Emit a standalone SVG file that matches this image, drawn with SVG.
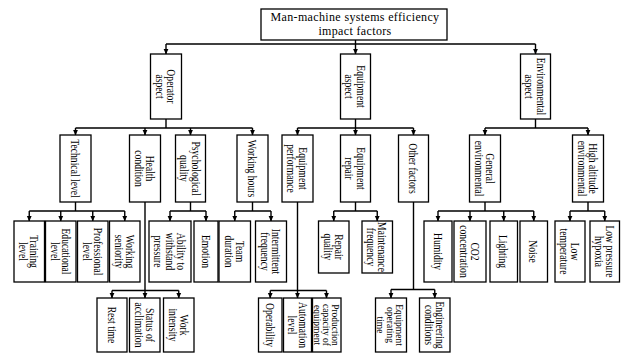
<svg xmlns="http://www.w3.org/2000/svg" width="621" height="354" viewBox="0 0 621 354">
<style>
.b{fill:#fff;stroke:#000;stroke-width:1.3}
.r{font-family:"Liberation Serif","Times New Roman",serif;font-size:12px;fill:#000;text-anchor:middle;letter-spacing:0.35px}
.t,.t tspan{font-family:"Liberation Serif","Times New Roman",serif;font-size:11.5px;fill:#000;text-anchor:middle;dominant-baseline:central}
.s,.s tspan{font-size:10px}
.c{fill:none;stroke:#000;stroke-width:1.4}
.a{fill:none;stroke:#000;stroke-width:1.4;marker-end:url(#ah)}
</style>
<defs>
<marker id="ah" markerUnits="userSpaceOnUse" markerWidth="6" markerHeight="6" refX="5.5" refY="3" orient="auto"><path d="M0,0.4 L6,3 L0,5.6 z" fill="#000"/></marker>
</defs>
<g id="connectors">
<path class="c" d="M355.5,40 V44 M166,44 H535.5"/>
<path class="a" d="M166,44 V54"/><path class="a" d="M355.5,44 V54"/><path class="a" d="M535.5,44 V54"/>
<path class="c" d="M166,119 V128 M75.5,128 H252.5"/>
<path class="a" d="M75.5,128 V135"/><path class="a" d="M145,128 V135"/><path class="a" d="M190.5,128 V135"/><path class="a" d="M252.5,128 V135"/>
<path class="c" d="M355.5,119 V128 M297.5,128 H413.5"/>
<path class="a" d="M297.5,128 V135"/><path class="a" d="M355.5,128 V135"/><path class="a" d="M413.5,128 V135"/>
<path class="c" d="M535.5,119 V128 M485,128 H588"/>
<path class="a" d="M485,128 V135"/><path class="a" d="M588,128 V135"/>
<path class="c" d="M75.5,202 V211 M29.25,211 H124.75"/>
<path class="a" d="M29.25,211 V221"/><path class="a" d="M60.75,211 V221"/><path class="a" d="M92.75,211 V221"/><path class="a" d="M124.75,211 V221"/>
<path class="c" d="M145,202 V290.5 M112,290.5 H178.75"/>
<path class="a" d="M112,290.5 V298"/><path class="a" d="M145,290.5 V298"/><path class="a" d="M178.75,290.5 V298"/>
<path class="c" d="M190.5,202 V211 M170,211 H206"/>
<path class="a" d="M170,211 V221"/><path class="a" d="M206,211 V221"/>
<path class="c" d="M252.5,202 V211 M234.75,211 H271"/>
<path class="a" d="M234.75,211 V221"/><path class="a" d="M271,211 V221"/>
<path class="c" d="M297.5,202 V290.5 M270.25,290.5 H326.5"/>
<path class="a" d="M270.25,290.5 V298"/><path class="a" d="M297.5,290.5 V298"/><path class="a" d="M326.5,290.5 V298"/>
<path class="c" d="M355.5,202 V211 M333.75,211 H377.25"/>
<path class="a" d="M333.75,211 V221"/><path class="a" d="M377.25,211 V221"/>
<path class="c" d="M413.5,202 V289.5 M391,289.5 H434.75"/>
<path class="a" d="M391,289.5 V298"/><path class="a" d="M434.75,289.5 V298"/>
<path class="c" d="M485,202 V211 M438,211 H533.75"/>
<path class="a" d="M438,211 V221"/><path class="a" d="M470,211 V221"/><path class="a" d="M503.75,211 V221"/><path class="a" d="M533.75,211 V221"/>
<path class="c" d="M588,202 V211 M570,211 H604.75"/>
<path class="a" d="M570,211 V221"/><path class="a" d="M604.75,211 V221"/>
</g>

<g id="n_root"><rect class="b" x="261" y="9" width="186" height="31"/>
<text class="r" x="355" y="21">Man-machine systems efficiency</text><text class="r" x="355" y="34.5">impact factors</text></g>

<g id="n_operator"><rect class="b" x="150.5" y="54" width="31" height="65"/>
<text class="t" transform="translate(166,86.5) rotate(90) scale(0.84,1)"><tspan x="0" y="-5.75">Operator</tspan><tspan x="0" y="5.75">aspect</tspan></text></g>
<g id="n_equipment"><rect class="b" x="340.5" y="54" width="30" height="65"/>
<text class="t" transform="translate(355.5,86.5) rotate(90) scale(0.84,1)"><tspan x="0" y="-5.75">Equipment</tspan><tspan x="0" y="5.75">aspect</tspan></text></g>
<g id="n_environmental"><rect class="b" x="520.5" y="54" width="30" height="65"/>
<text class="t" transform="translate(535.5,86.5) rotate(90) scale(0.84,1)"><tspan x="0" y="-5.75">Environmental</tspan><tspan x="0" y="5.75">aspect</tspan></text></g>

<g id="n_technical"><rect class="b" x="60" y="135" width="31" height="67"/>
<text class="t" transform="translate(75.5,168.5) rotate(90) scale(0.84,1)"><tspan x="0" y="0">Technical level</tspan></text></g>
<g id="n_health"><rect class="b" x="129.5" y="135" width="31" height="67"/>
<text class="t" transform="translate(145,168.5) rotate(90) scale(0.84,1)"><tspan x="0" y="-5.75">Health</tspan><tspan x="0" y="5.75">condition</tspan></text></g>
<g id="n_psychological"><rect class="b" x="175.5" y="135" width="30" height="67"/>
<text class="t" transform="translate(190.5,168.5) rotate(90) scale(0.84,1)"><tspan x="0" y="-5.75">Psychological</tspan><tspan x="0" y="5.75">quality</tspan></text></g>
<g id="n_workinghours"><rect class="b" x="237" y="135" width="31" height="67"/>
<text class="t" transform="translate(252.5,168.5) rotate(90) scale(0.84,1)"><tspan x="0" y="0">Working hours</tspan></text></g>
<g id="n_equipperf"><rect class="b" x="282" y="135" width="31" height="67"/>
<text class="t" transform="translate(297.5,168.5) rotate(90) scale(0.84,1)"><tspan x="0" y="-5.75">Equipment</tspan><tspan x="0" y="5.75">performance</tspan></text></g>
<g id="n_equiprepair"><rect class="b" x="340.5" y="135" width="30" height="67"/>
<text class="t" transform="translate(355.5,168.5) rotate(90) scale(0.84,1)"><tspan x="0" y="-5.75">Equipment</tspan><tspan x="0" y="5.75">repair</tspan></text></g>
<g id="n_other"><rect class="b" x="398.5" y="135" width="30" height="67"/>
<text class="t" transform="translate(413.5,168.5) rotate(90) scale(0.84,1)"><tspan x="0" y="0">Other factors</tspan></text></g>
<g id="n_generalenv"><rect class="b" x="469.5" y="135" width="31" height="67"/>
<text class="t" transform="translate(485,168.5) rotate(90) scale(0.84,1)"><tspan x="0" y="-5.75">General</tspan><tspan x="0" y="5.75">environmental</tspan></text></g>
<g id="n_highalt"><rect class="b" x="572.5" y="135" width="31" height="67"/>
<text class="t" transform="translate(588,168.5) rotate(90) scale(0.84,1)"><tspan x="0" y="-5.75">High altitude</tspan><tspan x="0" y="5.75">environmental</tspan></text></g>

<g id="n_training"><rect class="b" x="14" y="221" width="30.5" height="61"/>
<text class="t" transform="translate(29.25,251.5) rotate(90) scale(0.84,1)"><tspan x="0" y="-5.5">Training</tspan><tspan x="0" y="5.5">level</tspan></text></g>
<g id="n_educational"><rect class="b" x="45.5" y="221" width="30.5" height="61"/>
<text class="t" transform="translate(60.75,251.5) rotate(90) scale(0.84,1)"><tspan x="0" y="-5.5">Educational</tspan><tspan x="0" y="5.5">level</tspan></text></g>
<g id="n_professional"><rect class="b" x="77.5" y="221" width="30.5" height="61"/>
<text class="t" transform="translate(92.75,251.5) rotate(90) scale(0.84,1)"><tspan x="0" y="-5.5">Professional</tspan><tspan x="0" y="5.5">level</tspan></text></g>
<g id="n_seniority"><rect class="b" x="109.5" y="221" width="30.5" height="61"/>
<text class="t" transform="translate(124.75,251.5) rotate(90) scale(0.84,1)"><tspan x="0" y="-5.5">Working</tspan><tspan x="0" y="5.5">seniority</tspan></text></g>
<g id="n_ability"><rect class="b" x="149" y="221" width="42" height="61"/>
<text class="t" transform="translate(170,251.5) rotate(90) scale(0.84,1)"><tspan x="0" y="-11.5">Ability to</tspan><tspan x="0" y="0">withstand</tspan><tspan x="0" y="11.5">pressure</tspan></text></g>
<g id="n_emotion"><rect class="b" x="194" y="221" width="24" height="61"/>
<text class="t" transform="translate(206,251.5) rotate(90) scale(0.84,1)"><tspan x="0" y="0">Emotion</tspan></text></g>
<g id="n_team"><rect class="b" x="219" y="221" width="31.5" height="61"/>
<text class="t" transform="translate(234.75,251.5) rotate(90) scale(0.84,1)"><tspan x="0" y="-5.5">Team</tspan><tspan x="0" y="5.5">duration</tspan></text></g>
<g id="n_intermittent"><rect class="b" x="255.5" y="221" width="31" height="61"/>
<text class="t" transform="translate(271,251.5) rotate(90) scale(0.84,1)"><tspan x="0" y="-5.5">Intermittent</tspan><tspan x="0" y="5.5">frequency</tspan></text></g>
<g id="n_repairq"><rect class="b" x="318.5" y="221" width="30.5" height="52"/>
<text class="t" transform="translate(333.75,247) rotate(90) scale(0.84,1)"><tspan x="0" y="-5.5">Repair</tspan><tspan x="0" y="5.5">quality</tspan></text></g>
<g id="n_maint"><rect class="b" x="362" y="221" width="30.5" height="52"/>
<text class="t" transform="translate(377.25,247) rotate(90) scale(0.84,1)"><tspan x="0" y="-5.5">Maintenance</tspan><tspan x="0" y="5.5">frequency</tspan></text></g>
<g id="n_humidity"><rect class="b" x="424" y="221" width="28" height="61"/>
<text class="t" transform="translate(438,251.5) rotate(90) scale(0.84,1)"><tspan x="0" y="0">Humidity</tspan></text></g>
<g id="n_co2"><rect class="b" x="454" y="221" width="32" height="61"/>
<text class="t" transform="translate(470,251.5) rotate(90) scale(0.84,1)"><tspan x="0" y="-5.5">CO2</tspan><tspan x="0" y="5.5">concentration</tspan></text></g>
<g id="n_lighting"><rect class="b" x="490" y="221" width="27.5" height="61"/>
<text class="t" transform="translate(503.75,251.5) rotate(90) scale(0.84,1)"><tspan x="0" y="0">Lighting</tspan></text></g>
<g id="n_noise"><rect class="b" x="520" y="221" width="27.5" height="61"/>
<text class="t" transform="translate(533.75,251.5) rotate(90) scale(0.84,1)"><tspan x="0" y="0">Noise</tspan></text></g>
<g id="n_lowtemp"><rect class="b" x="555" y="221" width="30" height="61"/>
<text class="t" transform="translate(570,251.5) rotate(90) scale(0.84,1)"><tspan x="0" y="-5.5">Low</tspan><tspan x="0" y="5.5">temperature</tspan></text></g>
<g id="n_hypoxia"><rect class="b" x="590" y="221" width="29.5" height="61"/>
<text class="t" transform="translate(604.75,251.5) rotate(90) scale(0.84,1)"><tspan x="0" y="-5.5">Low pressure</tspan><tspan x="0" y="5.5">hypoxia</tspan></text></g>

<g id="n_rest"><rect class="b" x="97" y="298" width="30" height="54"/>
<text class="t" transform="translate(112,325) rotate(90) scale(0.84,1)"><tspan x="0" y="0">Rest time</tspan></text></g>
<g id="n_acclimation"><rect class="b" x="129.5" y="298" width="30.5" height="54"/>
<text class="t" transform="translate(144.75,325) rotate(90) scale(0.84,1)"><tspan x="0" y="-5.5">Status of</tspan><tspan x="0" y="5.5">acclimation</tspan></text></g>
<g id="n_intensity"><rect class="b" x="163.5" y="298" width="30.5" height="54"/>
<text class="t" transform="translate(178.75,325) rotate(90) scale(0.84,1)"><tspan x="0" y="-5.5">Work</tspan><tspan x="0" y="5.5">intensity</tspan></text></g>
<g id="n_operability"><rect class="b" x="258.5" y="298" width="23.5" height="54"/>
<text class="t" transform="translate(270.25,325) rotate(90) scale(0.84,1)"><tspan x="0" y="0">Operability</tspan></text></g>
<g id="n_automation"><rect class="b" x="283.5" y="298" width="28" height="54"/>
<text class="t" transform="translate(297.5,325) rotate(90) scale(0.84,1)"><tspan x="0" y="-5.5">Automation</tspan><tspan x="0" y="5.5">level</tspan></text></g>
<g id="n_production"><rect class="b" x="312.5" y="298" width="28.5" height="54"/>
<text class="t s" transform="translate(326.75,325) rotate(90) scale(0.95,1)"><tspan x="0" y="-9">Production</tspan><tspan x="0" y="0">capacity of</tspan><tspan x="0" y="9">equipment</tspan></text></g>
<g id="n_optime"><rect class="b" x="375.5" y="298" width="31" height="54"/>
<text class="t s" transform="translate(391,325) rotate(90) scale(0.95,1)"><tspan x="0" y="-9.5">Equipment</tspan><tspan x="0" y="0">operating</tspan><tspan x="0" y="9.5">time</tspan></text></g>
<g id="n_engineering"><rect class="b" x="419.5" y="298" width="30.5" height="54"/>
<text class="t" transform="translate(434.75,325) rotate(90) scale(0.84,1)"><tspan x="0" y="-5.5">Engineering</tspan><tspan x="0" y="5.5">conditions</tspan></text></g>
</svg>
